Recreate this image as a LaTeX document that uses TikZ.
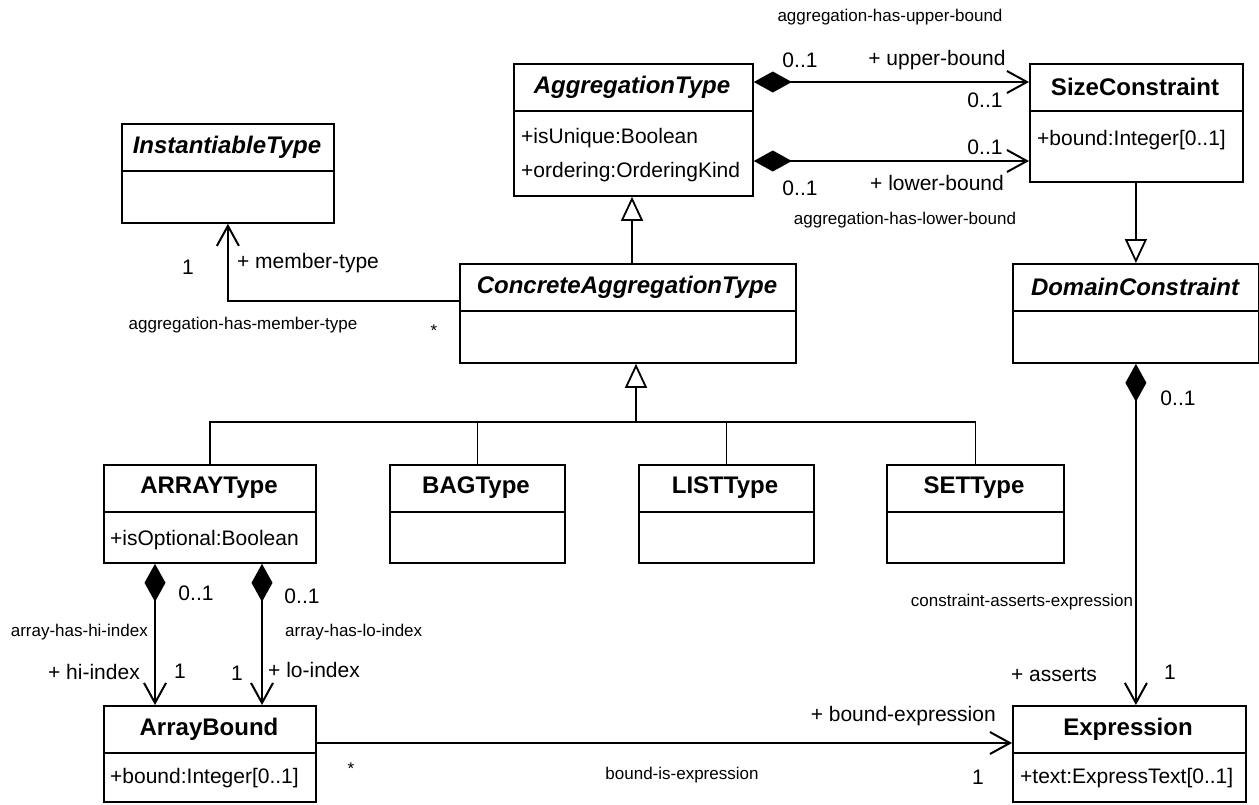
\documentclass[tikz,border=0pt]{standalone}
\usepackage{fontspec}
\setmainfont{Liberation Sans}
\usetikzlibrary{arrows.meta,calc}
\begin{document}
\begin{tikzpicture}[x=1pt,y=-1pt,
 cls/.style={draw, line width=1.8pt, inner sep=0pt, anchor=north west},
 divl/.style={line width=1.8pt},
 ttl/.style={font=\fontsize{24}{28}\selectfont\bfseries, inner sep=0pt},
 ittl/.style={font=\fontsize{24}{28}\selectfont\bfseries\itshape, inner sep=0pt},
 attr/.style={font=\fontsize{21}{24}\selectfont, anchor=west, inner sep=0pt},
 role/.style={font=\fontsize{21}{24}\selectfont, inner sep=0pt},
 assoc/.style={font=\fontsize{17}{20}\selectfont, inner sep=0pt},
 conn/.style={line width=2pt},
 nav/.style={conn, -{Straight Barb[length=20pt,width=22pt]}},
 compnav/.style={conn, arrows={Diamond[length=38pt,width=21pt]}-{Straight Barb[length=20pt,width=22pt]}},
 gen/.style={line width=1.8pt, arrows={Triangle[length=24pt,width=22pt,fill=white]}-},
 genl/.style={line width=1.8pt},
]
\useasboundingbox (0,0) rectangle (1259,804);

% ---------- classes ----------
\node[cls, minimum width=212pt, minimum height=99pt] (inst) at (121,123) {};
\draw[divl] (inst.west |- 0,171) -- (inst.east |- 0,171);
\node[ittl] (instT) at (227,147) {InstantiableType};

\node[cls, minimum width=239pt, minimum height=132pt] (agg) at (513,63) {};
\draw[divl] (agg.west |- 0,111) -- (agg.east |- 0,111);
\node[ittl] (aggT) at (632,87) {AggregationType};
\node[attr] (aggA1) at (521,138) {+isUnique:Boolean};
\node[attr] (aggA2) at (521,172) {+ordering:OrderingKind};

\node[cls, minimum width=213pt, minimum height=118pt] (size) at (1029,63) {};
\draw[divl] (size.west |- 0,111) -- (size.east |- 0,111);
\node[ttl] (sizeT) at (1135,87) {SizeConstraint};
\node[attr] (sizeA1) at (1037,140) {+bound:Integer[0..1]};

\node[cls, minimum width=336pt, minimum height=99pt] (cagg) at (459,263) {};
\draw[divl] (cagg.west |- 0,311) -- (cagg.east |- 0,311);
\node[ittl] (caggT) at (627,287) {ConcreteAggregationType};

\node[cls, minimum width=246pt, minimum height=99pt] (dom) at (1012,263) {};
\draw[divl] (dom.west |- 0,311) -- (dom.east |- 0,311);
\node[ittl] (domT) at (1135,287) {DomainConstraint};

\node[cls, minimum width=212pt, minimum height=98pt] (arr) at (103,464) {};
\draw[divl] (arr.west |- 0,512) -- (arr.east |- 0,512);
\node[ttl] (arrT) at (209,488) {ARRAYType};
\node[attr] (arrA1) at (110,540) {+isOptional:Boolean};

\node[cls, minimum width=175pt, minimum height=98pt] (bag) at (389,464) {};
\draw[divl] (bag.west |- 0,512) -- (bag.east |- 0,512);
\node[ttl] (bagT) at (476,488) {BAGType};

\node[cls, minimum width=175pt, minimum height=98pt] (list) at (638,464) {};
\draw[divl] (list.west |- 0,512) -- (list.east |- 0,512);
\node[ttl] (listT) at (725,488) {LISTType};

\node[cls, minimum width=177pt, minimum height=98pt] (set) at (886,464) {};
\draw[divl] (set.west |- 0,512) -- (set.east |- 0,512);
\node[ttl] (setT) at (974,488) {SETType};

\node[cls, minimum width=212pt, minimum height=96pt] (bound) at (103,705) {};
\draw[divl] (bound.west |- 0,753) -- (bound.east |- 0,753);
\node[ttl] (boundT) at (209,729) {ArrayBound};
\node[attr] (boundA1) at (110,778) {+bound:Integer[0..1]};

\node[cls, minimum width=233pt, minimum height=96pt] (expr) at (1012,705) {};
\draw[divl] (expr.west |- 0,753) -- (expr.east |- 0,753);
\node[ttl] (exprT) at (1128,729) {Expression};
\node[attr] (exprA1) at (1020,778) {+text:ExpressText[0..1]};

% ---------- generalizations ----------
\coordinate (ga) at (632,0);
\draw[gen] (agg.south -| ga) -- (cagg.north -| ga);
\coordinate (j) at (636,422);
\draw[gen] (cagg.south -| j) -- (j);
\draw[genl] (arr.north) -- (arr.north |- j) -- (set.north |- j) -- (set.north);
\draw[genl] (bag.north) -- (bag.north |- j);
\draw[genl] (list.north) -- (list.north |- j);
\draw[gen] (dom.north) -- (dom.north |- size.south);

% ---------- associations ----------
\draw[compnav] (agg.east |- 0,82) -- (size.west |- 0,82);
\draw[compnav] (agg.east |- 0,161) -- (size.west |- 0,161);
\draw[nav] (cagg.west |- 0,301) -| (inst.south);
\draw[compnav] (dom.south) -- (dom.south |- expr.north);
\draw[compnav] (arr.south -| 155,0) -- (bound.north -| 155,0);
\draw[compnav] (arr.south -| 262,0) -- (bound.north -| 262,0);
\draw[nav] (bound.east |- 0,743) -- (expr.west |- 0,743);

% ---------- labels ----------
\node[assoc] (lUpN) at (890,17) {aggregation-has-upper-bound};
\node[role] (lUpM1) at (800,60) {0..1};
\node[role] (lUpR) at (937,60) {+ upper-bound};
\node[role] (lUpM2) at (985,100) {0..1};
\node[role] (lLoM2) at (985,147) {0..1};
\node[role] (lLoM1) at (800,188) {0..1};
\node[role] (lLoR) at (937,183) {+ lower-bound};
\node[assoc] (lLoN) at (905,220) {aggregation-has-lower-bound};

\node[role] (lMemM1) at (188,267) {1};
\node[role] (lMemR) at (308,263) {+ member-type};
\node[assoc] (lMemN) at (243,325) {aggregation-has-member-type};
\node[assoc] (lMemM2) at (434,331) {*};

\node[role] (lDomM) at (1178,398) {0..1};
\node[assoc] (lAsN) at (1022,602) {constraint-asserts-expression};
\node[role] (lAsR) at (1054,675) {+ asserts};
\node[role] (lAsM) at (1170,672) {1};

\node[role] (lHiM1) at (196,593) {0..1};
\node[role] (lLoiM1) at (302,596) {0..1};
\node[assoc, anchor=east] (lHiN) at (148,632) {array-has-hi-index};
\node[assoc, anchor=west] (lLoiN) at (285,632) {array-has-lo-index};
\node[role, anchor=east] (lHiR) at (140,672) {+ hi-index};
\node[role] (lHiM2) at (180,671) {1};
\node[role] (lLoiM2) at (237,673) {1};
\node[role, anchor=west] (lLoiR) at (268,670) {+ lo-index};

\node[role, anchor=east] (lBeR) at (996,716) {+ bound-expression};
\node[assoc] (lBeM1) at (351,769) {*};
\node[assoc] (lBeN) at (682,775) {bound-is-expression};
\node[role] (lBeM2) at (978,777) {1};
\end{tikzpicture}
\end{document}
